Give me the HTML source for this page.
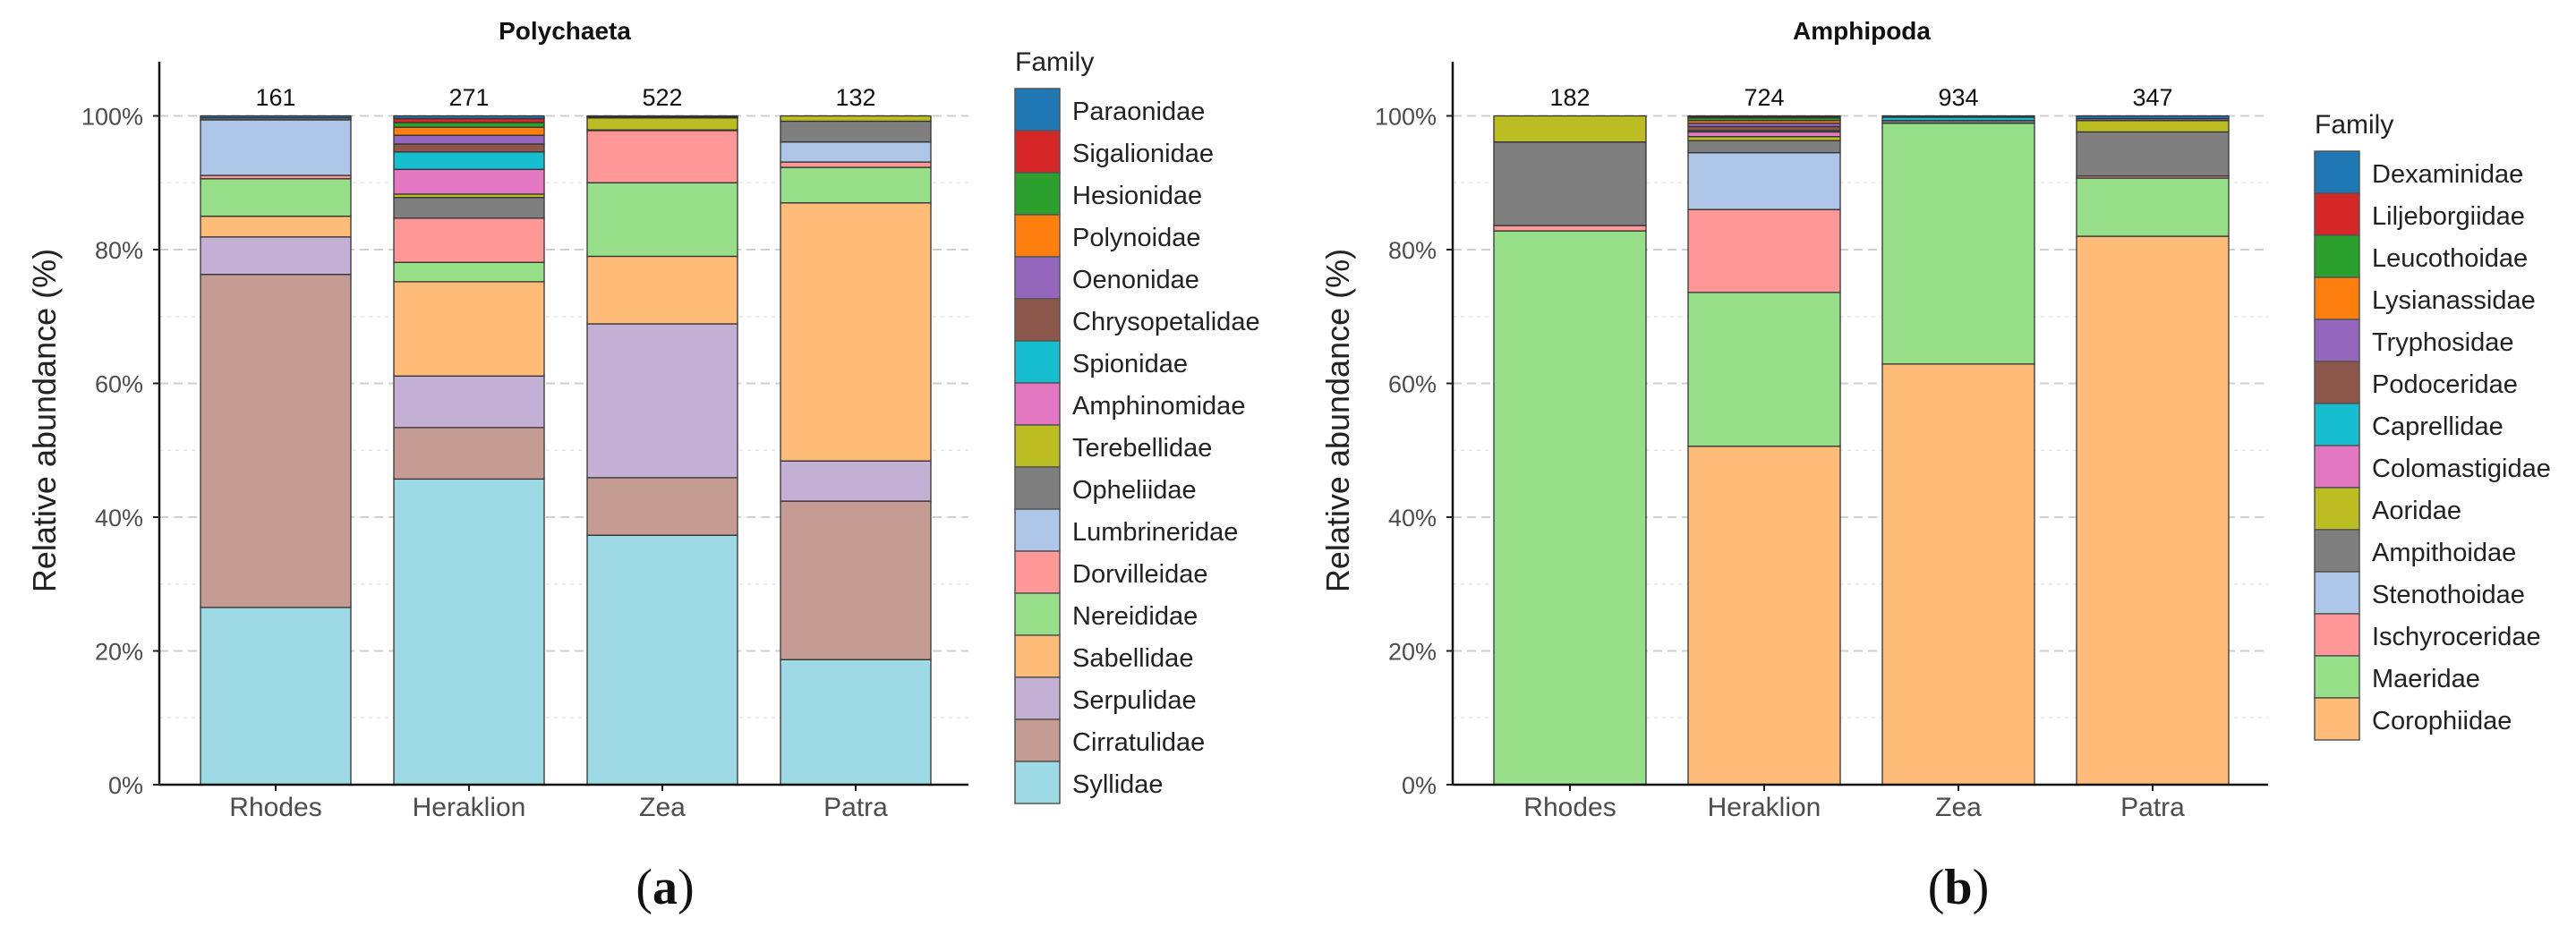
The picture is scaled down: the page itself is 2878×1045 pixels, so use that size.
<!DOCTYPE html>
<html><head><meta charset="utf-8">
<style>
html,body{margin:0;padding:0;background:#fff;}
svg{display:block;font-family:"Liberation Sans",sans-serif;}
</style></head>
<body>
<svg id="chart" width="2878" height="1045" viewBox="0 0 2878 1045" xmlns="http://www.w3.org/2000/svg"></svg>
<script>
// ---- shared data ----
const sites = ["Rhodes","Heraklion","Zea","Patra"];
const yTicks = [0,20,40,60,80,100];
const yMinor = [10,30,50,70,90];

// ---- Polychaeta (stack order bottom -> top) ----
const polyFamilies = ["Syllidae","Cirratulidae","Serpulidae","Sabellidae","Nereididae","Dorvilleidae","Lumbrineridae","Opheliidae","Terebellidae","Amphinomidae","Spionidae","Chrysopetalidae","Oenonidae","Polynoidae","Hesionidae","Sigalionidae","Paraonidae"];
const polyColors = ["#9edae5","#c49c94","#c5b0d5","#ffbb78","#98df8a","#ff9896","#aec7e8","#7f7f7f","#bcbd22","#e377c2","#17becf","#8c564b","#9467bd","#ff7f0e","#2ca02c","#d62728","#1f77b4"];
const polyRhodes    = [26.5,49.8,5.6,3.1,5.6,0.5,8.3,0.3,0,0,0,0,0,0,0,0,0.3];
const polyHeraklion = [45.7,7.7,7.7,14.1,2.9,6.6,0,3.1,0.5,3.7,2.6,1.2,1.3,1.2,0.7,0.6,0.4];
const polyZea       = [37.3,8.6,23.0,10.1,11.0,7.8,0,0.1,1.8,0.1,0.1,0,0,0,0,0,0.1];
const polyPatra     = [18.7,23.7,6.0,38.6,5.3,0.8,3.0,3.1,0.8,0,0,0,0,0,0,0,0];
const polyCounts = [161,271,522,132];

// ---- Amphipoda (stack order bottom -> top) ----
const amphFamilies = ["Corophiidae","Maeridae","Ischyroceridae","Stenothoidae","Ampithoidae","Aoridae","Colomastigidae","Caprellidae","Podoceridae","Tryphosidae","Lysianassidae","Leucothoidae","Liljeborgiidae","Dexaminidae"];
const amphColors = ["#ffbb78","#98df8a","#ff9896","#aec7e8","#7f7f7f","#bcbd22","#e377c2","#17becf","#8c564b","#9467bd","#ff7f0e","#2ca02c","#d62728","#1f77b4"];
const amphRhodes    = [0,82.8,0.8,0,12.5,3.9,0,0,0,0,0,0,0,0];
const amphHeraklion = [50.6,23.0,12.4,8.5,1.8,0.6,0.7,0.2,0.6,0.5,0.4,0.4,0.2,0.1];
const amphZea       = [62.9,36.0,0,0,0.4,0,0,0.5,0,0,0,0,0,0.2];
const amphPatra     = [82.0,8.7,0.3,0,6.6,1.7,0,0,0,0.3,0,0,0,0.4];
const amphCounts = [182,724,934,347];

const NS = "http://www.w3.org/2000/svg";
const svg = document.getElementById("chart");
function mk(tag, attrs, parent, text){
  const e = document.createElementNS(NS, tag);
  for (const k in attrs) e.setAttribute(k, attrs[k]);
  if (text !== undefined) e.textContent = text;
  (parent || svg).appendChild(e);
  return e;
}

function panel(cfg){
  const g = mk("g", {});
  
  
  const y0 = 877, y100 = 129.5;
  const yScale = v => y0 - (y0 - y100) * v / 100;
  const xCenter = i => cfg.firstCenter + i * cfg.step;

  // grid
  yMinor.forEach(t => {
    const l = mk("line", {x1: cfg.axisX, x2: cfg.axisEnd, y1: yScale(t), y2: yScale(t), stroke: "#e6e6e6", "stroke-width": 1.5, "stroke-dasharray": "4 5"}, g);
    
    
  });
  yTicks.forEach(t => {
    const l = mk("line", {x1: cfg.axisX, x2: cfg.axisEnd, y1: yScale(t), y2: yScale(t), stroke: "#cfcfcf", "stroke-width": 2, "stroke-dasharray": "10 6"}, g);
    
    
  });

  // bars
  cfg.series.forEach((vals, i) => {
    let cum = 0;
    const x = xCenter(i) - cfg.barW / 2;
    vals.forEach((v, k) => {
      if (v <= 0) return;
      const yt = yScale(cum + v), yb = yScale(cum);
      const r = mk("rect", {x: x, y: yt, width: cfg.barW, height: yb - yt, fill: cfg.colors[k], stroke: "#333", "stroke-width": 1.3}, g);
      
      
      cum += v;
    });
    const c = mk("text", {x: xCenter(i), y: 118, "text-anchor": "middle", "font-size": 27, fill: "#111"}, g, String(cfg.counts[i]));
    
    
    const xl = mk("text", {x: xCenter(i), y: 912, "text-anchor": "middle", "font-size": 30, fill: "#4d4d4d"}, g, sites[i]);
    
    
    const tk = mk("line", {x1: xCenter(i), x2: xCenter(i), y1: y0, y2: y0 + 7, stroke: "#222", "stroke-width": 2}, g);
    
    
  });

  // axes
  const ya = mk("line", {x1: cfg.axisX, x2: cfg.axisX, y1: 69, y2: y0, stroke: "#111", "stroke-width": 2.5}, g);
  
  
  const xa = mk("line", {x1: cfg.axisX, x2: cfg.axisEnd, y1: y0, y2: y0, stroke: "#111", "stroke-width": 2.5}, g);
  
  
  yTicks.forEach(t => {
    const tl = mk("text", {x: cfg.axisX - 18, y: yScale(t) + 10, "text-anchor": "end", "font-size": 27, fill: "#4d4d4d"}, g, t + "%");
    
    
    const tk = mk("line", {x1: cfg.axisX - 7, x2: cfg.axisX, y1: yScale(t), y2: yScale(t), stroke: "#222", "stroke-width": 2}, g);
    
    
  });
  const yt = mk("text", {x: 0, y: 0, "text-anchor": "middle", "font-size": 36, fill: "#222", transform: "translate(" + (cfg.axisX - 116) + ",470) rotate(-90)"}, g, "Relative abundance (%)");
  
  
  const tt = mk("text", {x: cfg.titleX, y: 44, "text-anchor": "middle", "font-size": 28, "font-weight": "bold", fill: "#111"}, g, cfg.title);
  
  
  const pl = mk("text", {x: cfg.labelX, y: 1010, "text-anchor": "middle", "font-size": 56, "font-family": "Liberation Serif, serif", fill: "#111"}, g);
  
  
  mk("tspan", {}, pl, "(");
  mk("tspan", {"font-weight": "bold"}, pl, cfg.letter);
  mk("tspan", {}, pl, ")");

  // legend (top entry = last family)
  const lg = mk("g", {}, g);
  
  
  const lt = mk("text", {x: cfg.legX, y: cfg.legTop - 20, "font-size": 30, fill: "#222"}, lg, "Family");
  
  
  const n = cfg.families.length;
  for (let j = 0; j < n; j++) {
    const k = n - 1 - j;
    const y = cfg.legTop + j * 47;
    const key = mk("rect", {x: cfg.legX, y: y, width: 50, height: 47, fill: cfg.colors[k], stroke: "#555", "stroke-width": 1.5}, lg);
    
    
    const lab = mk("text", {x: cfg.legX + 64, y: y + 35, "font-size": 29, fill: "#222"}, lg, cfg.families[k]);
    
    
  }
}

panel({name: "polychaeta-panel", title: "Polychaeta", letter: "a", titleX: 631, labelX: 743,
  axisX: 178, axisEnd: 1082, firstCenter: 308, step: 216, barW: 168,
  families: polyFamilies, colors: polyColors, counts: polyCounts,
  series: [polyRhodes, polyHeraklion, polyZea, polyPatra],
  legX: 1134, legTop: 99});

panel({name: "amphipoda-panel", title: "Amphipoda", letter: "b", titleX: 2080, labelX: 2188,
  axisX: 1623, axisEnd: 2534, firstCenter: 1754, step: 217, barW: 170,
  families: amphFamilies, colors: amphColors, counts: amphCounts,
  series: [amphRhodes, amphHeraklion, amphZea, amphPatra],
  legX: 2586, legTop: 169});
</script>
</body></html>
